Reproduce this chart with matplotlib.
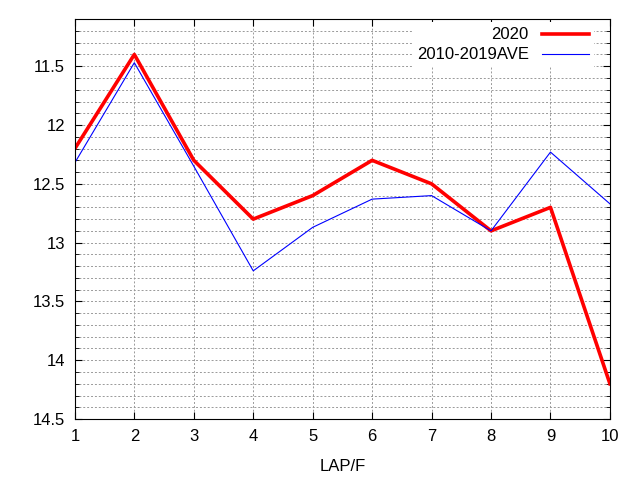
import matplotlib.pyplot as plt
from matplotlib.ticker import MultipleLocator

plt.rcParams['font.family'] = ['Liberation Sans', 'DejaVu Sans']

# Data
laps = [1, 2, 3, 4, 5, 6, 7, 8, 9, 10]
times_2020 = [12.2, 11.4, 12.3, 12.8, 12.6, 12.3, 12.5, 12.9, 12.7, 14.2]
times_ave = [12.32, 11.47, 12.35, 13.24, 12.87, 12.63, 12.6, 12.9, 12.23, 12.67]

fig = plt.figure(figsize=(6.4, 4.8), dpi=100)
ax = fig.add_axes([0.117, 0.127, 0.836, 0.833])

ax.plot(laps, times_2020, color='red', linewidth=2.6, label='2020', zorder=3)
ax.plot(laps, times_ave, color='blue', linewidth=0.8, label='2010-2019AVE', zorder=3)

ax.set_xlim(1, 10)
ax.set_ylim(14.5, 11.1)
ax.xaxis.set_major_locator(MultipleLocator(1))
ax.yaxis.set_minor_locator(MultipleLocator(0.1))
ax.set_yticks([11.5, 12, 12.5, 13, 13.5, 14, 14.5])
ax.set_yticklabels(['11.5', '12', '12.5', '13', '13.5', '14', '14.5'])

ax.grid(True, which='major', linestyle=(0, (2, 2)), color='#999999', linewidth=0.7)
ax.grid(True, which='minor', axis='y', linestyle=(0, (2, 2)), color='#999999', linewidth=0.7)
ax.tick_params(which='both', direction='in', top=True, right=True, labelsize=12)
ax.tick_params(which='major', length=5, pad=7)
ax.tick_params(which='minor', length=3)
ax.set_xlabel('LAP/F', fontsize=12, labelpad=11)

leg = ax.legend(loc='upper right', bbox_to_anchor=(0.970, 0.992), borderaxespad=0,
                markerfirst=False, handlelength=2.8, fontsize=12,
                frameon=True, fancybox=False, labelspacing=0.3, borderpad=0.3)
leg.get_frame().set_edgecolor('none')
leg.get_frame().set_facecolor('white')
leg.get_frame().set_alpha(1)
for s in ax.spines.values():
    s.set_zorder(6)

fig.savefig('out.png', dpi=100)
